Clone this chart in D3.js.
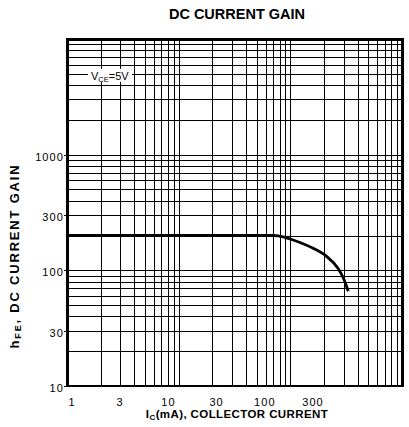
<!DOCTYPE html>
<html><head><meta charset="utf-8">
<script src="https://cdn.jsdelivr.net/npm/d3@7"></script>
<style>
body{margin:0;background:#fff}
svg{display:block}
text{font-family:"Liberation Sans",Arial,Helvetica,sans-serif;fill:#000}
</style>
</head><body><svg id="c" width="409" height="427"></svg>
<script>
// ---- data ----
const xTickLabels = ["1", "3", "10", "30", "100", "300"];
const yTickValues = [10, 30, 100, 300, 1000];
const xDomain = [1, 1000];
const yDomain = [10, 10000];
const collectorCurrent = [1, 70, 88, 106, 160, 211, 267, 298, 330];
const dcGain =           [200, 200, 194, 183, 155, 132, 104, 86, 66];
const titleText = "DC CURRENT GAIN";
const vceValue = 5000; // annotation row on the grid

// ---- layout ----
const L = 67, R = 402, T = 39, B = 386;
const svg = d3.select("#c");
const x = d3.scaleLog().domain(xDomain).range([L, R]);
const y = d3.scaleLog().domain(yDomain).range([B, T]);
const xLab = d3.scalePoint().domain(xTickLabels).range([72, 313]);

const px = v => Math.round(v) + 0.5;

// grid
const g = svg.append("g").attr("shape-rendering", "crispEdges");
g.selectAll(".vx").data(x.ticks()).join("line")
  .attr("x1", d => px(x(d))).attr("x2", d => px(x(d)))
  .attr("y1", T).attr("y2", B)
  .attr("stroke", "#000").attr("stroke-width", 1.2);
g.selectAll(".hy").data(y.ticks()).join("line")
  .attr("y1", d => px(y(d))).attr("y2", d => px(y(d)))
  .attr("x1", L).attr("x2", R)
  .attr("stroke", "#000").attr("stroke-width", 1.2);

// border
const bd = svg.append("g").attr("stroke", "#000").attr("shape-rendering", "crispEdges");
bd.append("line").attr("x1", L).attr("x2", L).attr("y1", T - 1.5).attr("y2", B + 1).attr("stroke-width", 3);
bd.append("line").attr("x1", R).attr("x2", R).attr("y1", T - 1.5).attr("y2", B + 1).attr("stroke-width", 3);
bd.append("line").attr("x1", L).attr("x2", R).attr("y1", T).attr("y2", T).attr("stroke-width", 3);
bd.append("line").attr("x1", L).attr("x2", R).attr("y1", B).attr("y2", B).attr("stroke-width", 2);

// curve
const pts = collectorCurrent.map((c, i) => ({c, h: dcGain[i]}));
svg.append("path").datum(pts)
  .attr("fill", "none").attr("stroke", "#000").attr("stroke-width", 2.8)
  .attr("d", d3.line().x(d => x(d.c)).y(d => y(d.h)).curve(d3.curveMonotoneX));

// y tick labels
svg.selectAll(".yl").data(yTickValues).join("text")
  .attr("x", 64).attr("y", d => y(d) + 2)
  .attr("dy", "0.35em").attr("text-anchor", "end")
  .attr("font-size", 11).attr("letter-spacing", 1.1)
  .text(d => d);
svg.selectAll(".yt").data(yTickValues).join("line")
  .attr("x1", L - 3).attr("x2", L).attr("y1", d => px(y(d))).attr("y2", d => px(y(d)))
  .attr("stroke", "#000").attr("shape-rendering", "crispEdges");

// x tick labels
svg.selectAll(".xl").data(xTickLabels).join("text")
  .attr("x", d => xLab(d)).attr("y", 406)
  .attr("text-anchor", "middle")
  .attr("font-size", 11).attr("letter-spacing", 1.1)
  .text(d => d);

// title
svg.append("text").attr("x", 237).attr("y", 19).attr("text-anchor", "middle")
  .attr("font-size", 14.5).attr("font-weight", "bold").text(titleText);

// x axis title
const xt = svg.append("text").attr("x", 237).attr("y", 418).attr("text-anchor", "middle")
  .attr("font-size", 11.5).attr("font-weight", "bold").attr("letter-spacing", 0.4);
xt.append("tspan").text("I");
xt.append("tspan").attr("dy", 2).attr("font-size", 8).text("C");
xt.append("tspan").attr("dy", -2).text("(mA), COLLECTOR CURRENT");

// y axis title
const yt = svg.append("text").attr("transform", "translate(19,256) rotate(-90)")
  .attr("text-anchor", "middle").attr("font-size", 13).attr("font-weight", "bold")
  .attr("letter-spacing", 1.8);
yt.append("tspan").text("h");
yt.append("tspan").attr("dy", 2).attr("font-size", 9).text("FE");
yt.append("tspan").attr("dy", -2).text(", DC CURRENT GAIN");

// V_CE annotation
const ay = y(vceValue);
svg.append("rect").attr("x", 88).attr("y", ay - 5).attr("width", 44).attr("height", 13).attr("fill", "#fff");
const vt = svg.append("text").attr("x", 91).attr("y", ay + 6).attr("font-size", 11);
vt.append("tspan").text("V");
vt.append("tspan").attr("dy", 2).attr("font-size", 7.5).text("CE");
vt.append("tspan").attr("dy", -2).text("=5V");
</script>
</body></html>
